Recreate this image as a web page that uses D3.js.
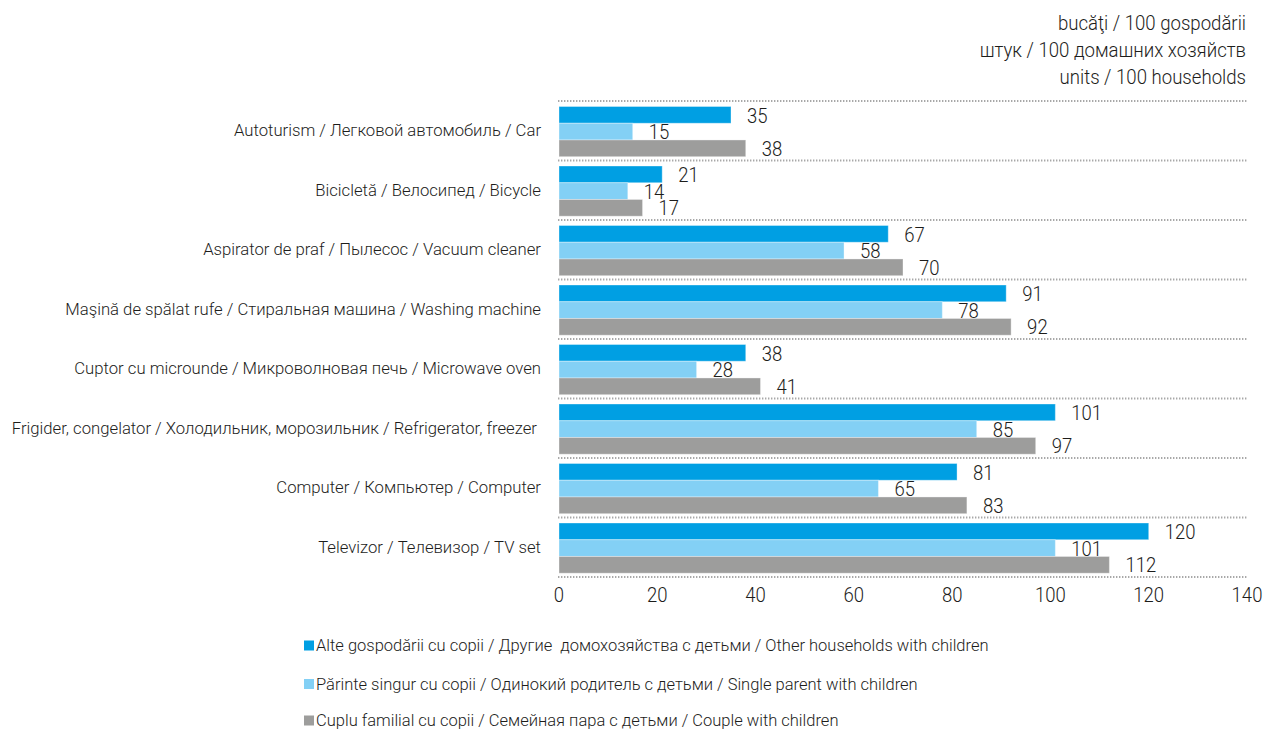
<!DOCTYPE html>
<html>
<head>
<meta charset="utf-8">
<script src="https://cdn.jsdelivr.net/npm/d3@7"></script>
<style>
  html, body { margin: 0; padding: 0; background: #fff; }
  svg { display: block; font-family: Roboto, "Noto Sans", sans-serif; font-weight: 300; }
  text { white-space: pre; fill: #1d1d1b; }
</style>
</head>
<body>
<svg id="chart" width="1266" height="729"></svg>
<script>
// Household durable goods per 100 households, by household type
const categories = [
  "Autoturism / Легковой автомобиль / Car",
  "Bicicletă / Велосипед / Bicycle",
  "Aspirator de praf / Пылесос / Vacuum cleaner",
  "Maşină de spălat rufe / Стиральная машина / Washing machine",
  "Cuptor cu microunde / Микроволновая печь / Microwave oven",
  "Frigider, congelator / Холодильник, морозильник / Refrigerator, freezer ",
  "Computer / Компьютер / Computer",
  "Televizor / Телевизор / TV set"
];
const seriesNames = [
  "Alte gospodării cu copii / Другие  домохозяйства с детьми / Other households with children",
  "Părinte singur cu copii / Одинокий родитель с детьми / Single parent with children",
  "Cuplu familial cu copii / Семейная пара с детьми / Couple with children"
];
const otherHouseholds = [35, 21, 67, 91, 38, 101, 81, 120];
const singleParent    = [15, 14, 58, 78, 28, 85, 65, 101];
const couple          = [38, 17, 70, 92, 41, 97, 83, 112];
const xTicks = [0, 20, 40, 60, 80, 100, 120, 140];
const unitLines = ["bucăţi / 100 gospodării", "штук / 100 домашних хозяйств", "units / 100 households"];
const colors = ["#009fe3", "#83d0f5", "#9d9d9c"];

const seriesValues = [otherHouseholds, singleParent, couple];
const rows = categories.map((c, i) => ({ cat: c, vals: seriesValues.map(s => s[i]) }));

const svg = d3.select("#chart");
const plotLeft = 559, plotRight = 1247, plotTop = 101, plotBottom = 577;

const x = d3.scaleLinear().domain([0, 140]).range([plotLeft, plotRight]);
const y = d3.scaleBand().domain(categories).range([plotTop, plotBottom]).paddingInner(0).paddingOuter(0);
const inner = d3.scaleBand().domain(d3.range(3)).range([5.5, y.bandwidth() - 3.8]).padding(0);

// dotted separators between categories
const seps = d3.range(categories.length + 1).map(i => plotTop + i * y.bandwidth());
svg.append("g").selectAll("line").data(seps).join("line")
  .attr("x1", plotLeft - 1).attr("x2", plotRight)
  .attr("y1", d => d).attr("y2", d => d)
  .attr("stroke", "#a8a8a8").attr("stroke-width", 2)
  .attr("stroke-dasharray", "1.4 1.6");

// text helper with optional horizontal scaling
function ctext(g, tx, ty, str, size, anchor, sx) {
  return g.append("text")
    .attr("transform", `translate(${tx},${ty}) scale(${sx},1)`)
    .attr("text-anchor", anchor)
    .attr("dominant-baseline", "central")
    .style("font-size", size + "px")
    .text(str);
}

// bars
const groups = svg.append("g").selectAll("g").data(rows).join("g")
  .attr("transform", d => `translate(0,${y(d.cat)})`);
groups.selectAll("rect").data(d => d.vals.map((v, k) => ({ v, k }))).join("rect")
  .attr("x", x(0))
  .attr("y", d => inner(d.k))
  .attr("width", d => x(d.v) - x(0))
  .attr("height", inner.bandwidth())
  .attr("fill", d => colors[d.k])
  .attr("stroke", "#ffffff").attr("stroke-opacity", 0.35).attr("stroke-width", 1);

// value labels
groups.each(function (d) {
  const g = d3.select(this);
  d.vals.forEach((v, k) => {
    ctext(g, x(v) + 16, inner(k) + inner.bandwidth() / 2 + 1, String(v), 19.5, "start", 0.95);
  });
});

// category labels
const catG = svg.append("g");
categories.forEach(c => ctext(catG, 541, y(c) + y.bandwidth() / 2, c, 16.7, "end", 1));

// x axis tick labels
const axG = svg.append("g");
xTicks.forEach(t => ctext(axG, x(t), 595, String(t), 19.5, "middle", 0.95));

// units note
const uG = svg.append("g");
unitLines.forEach((u, i) => ctext(uG, 1246, 23 + i * 27, u, 19.8, "end", 0.94));

// legend
const legG = svg.append("g");
const legY = [645.5, 684, 720.5];
seriesNames.forEach((s, i) => {
  legG.append("rect").attr("x", 304).attr("y", legY[i] - 5).attr("width", 10).attr("height", 10).attr("fill", colors[i]);
  ctext(legG, 316, legY[i], s, 16.5, "start", 1);
});
</script>
</body>
</html>
